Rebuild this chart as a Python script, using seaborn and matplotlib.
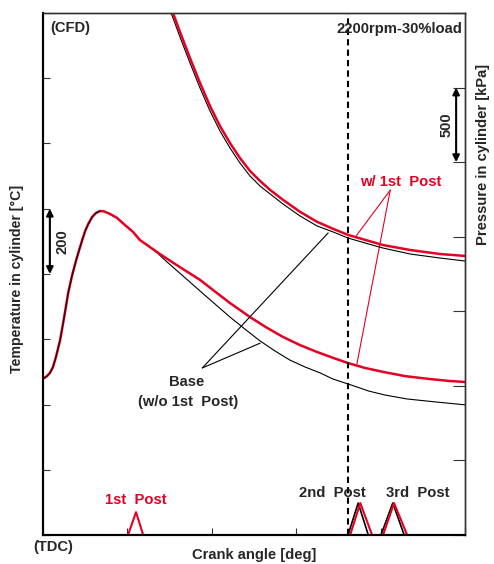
"""In-cylinder temperature and pressure after TDC, base vs. w/ 1st post injection."""
import matplotlib
matplotlib.use("Agg")
import matplotlib.pyplot as plt
import seaborn as sns

RED = "#e60023"

# crank angle axis is unitless here (0..100 across the frame), temperature 0..1600, pressure 0..3500
temp_x = [0, 1.02, 1.73, 2.44, 3.15, 4.14, 5.09, 6.04, 6.99, 7.94, 8.65, 9.36, 10.07, 10.78,
          11.73, 12.62, 13.57, 14.52, 15.93, 17.59, 19.49, 21.38, 23.03]
temp_rise = [478, 487, 497, 515, 546, 598, 668, 742, 797, 843, 874, 904, 932, 953,
             975, 987, 993, 992, 984, 972, 950, 929, 904]

temp_red_x = [27.77, 32.50, 37.25, 40.33, 44.35, 49.09, 53.12, 56.91, 60.93, 64.96, 68.75,
              72.30, 76.33, 80.59, 85.80, 91.71, 96.45, 100]
temp_red = [861, 821, 782, 751, 711, 668, 635, 607, 582, 561, 543,
            527, 512, 500, 487, 478, 472, 469]

temp_base_x = [26.59, 29.43, 33.22, 37.25, 40.80, 44.35, 47.90, 51.46, 55.01, 58.56, 62.11,
               65.66, 68.75, 72.30, 77.27, 81.06, 86.27, 92.90, 100]
temp_base = [871, 837, 794, 748, 708, 668, 631, 595, 564, 536, 515,
             497, 478, 463, 441, 429, 417, 408, 399]

pres_red_x = [30.14, 30.85, 32.51, 34.88, 37.25, 39.62, 41.98, 44.35, 46.72, 49.09, 51.46,
              53.83, 56.91, 60.93, 64.96, 68.75, 72.30, 76.33, 80.59, 86.99, 94.09, 100]
pres_red = [3554, 3500, 3373, 3198, 3031, 2876, 2742, 2628, 2527, 2441, 2374,
            2314, 2247, 2167, 2100, 2053, 2012, 1979, 1944, 1911, 1884, 1871]

pres_base_x = pres_red_x
pres_base = [3520, 3467, 3339, 3165, 2997, 2843, 2709, 2595, 2494, 2407, 2340,
             2287, 2219, 2139, 2072, 2032, 1991, 1958, 1924, 1884, 1857, 1837]

# injection pulse markers
post1_x = [20.2, 22.1, 23.8]
post1_h = [0, 70, 0]
post2_base_x = [72.3, 74.7, 77.1]
post2_red_x = [72.8, 75.2, 78.0]
post3_base_x = [80.1, 82.9, 85.6]
post3_red_x = [80.6, 83.2, 86.3]
post23_h = [0, 98, 0]

sns.set_style("ticks")
plt.rcParams["font.family"] = ["Liberation Sans", "DejaVu Sans"]
plt.rcParams["font.weight"] = "bold"

fig = plt.figure(figsize=(4.94, 5.64), dpi=100)
ax = fig.add_axes([0.0864, 0.0514, 0.8549, 0.9256])
ax2 = ax.twinx()

# temperature
sns.lineplot(x=temp_x + temp_base_x, y=temp_rise + temp_base, ax=ax, color="black", lw=0.8)
sns.lineplot(x=temp_x + temp_red_x, y=temp_rise + temp_red, ax=ax, color=RED, lw=1.8)
sns.lineplot(x=temp_x[:17], y=temp_rise[:17], ax=ax, color="black", lw=0.7)

# pressure
sns.lineplot(x=pres_base_x, y=pres_base, ax=ax2, color="black", lw=0.8)
sns.lineplot(x=pres_red_x, y=pres_red, ax=ax2, color=RED, lw=1.8)

# injection pulses
sns.lineplot(x=post1_x, y=post1_h, ax=ax, color=RED, lw=1.5)
for bx, rx in [(post2_base_x, post2_red_x), (post3_base_x, post3_red_x)]:
    sns.lineplot(x=bx, y=post23_h, ax=ax, color="black", lw=1.2)
    sns.lineplot(x=rx, y=post23_h, ax=ax, color=RED, lw=1.5)

ax.axvline(72.3, color="black", lw=1.5, ls=(0, (3, 2)))

ax.set_xlim(0, 100)
ax.set_ylim(0, 1600)
ax2.set_ylim(0, 3500)
ax.set_xticks(range(0, 101, 20))
ax.set_yticks(range(0, 1601, 200))
ax2.set_yticks(range(0, 3501, 500))
ax.set_xticklabels([])
ax.set_yticklabels([])
ax2.set_yticklabels([])
ax.set_xlabel("")
ax.set_ylabel("")
ax2.set_ylabel("")
ax.tick_params(axis="both", direction="in", length=5, width=0.8, color="#333333")
ax2.tick_params(axis="y", direction="in", length=9, width=0.8, color="#333333")
for a in (ax, ax2):
    for side in ["left", "bottom"]:
        a.spines[side].set_color("black")
        a.spines[side].set_linewidth(1.5)
    for side in ["top", "right"]:
        a.spines[side].set_visible(True)
        a.spines[side].set_color("#333333")
        a.spines[side].set_linewidth(1.0)

fs = 10.6
ax.text(1.7, 1554, "(CFD)", fontsize=fs, fontweight="bold", va="center", ha="left")
ax.text(99.3, 1551, "2200rpm-30%load", fontsize=fs, fontweight="bold", va="center", ha="right")

# scale arrows
ax.annotate("", xy=(1.7, 1000), xytext=(1.7, 800),
            arrowprops=dict(arrowstyle="<|-|>", color="black", lw=1.5, shrinkA=0, shrinkB=0,
                            mutation_scale=10))
ax.text(4.6, 900, "200", rotation=90, fontsize=fs, fontweight="bold", va="center", ha="center")
ax2.annotate("", xy=(97.9, 3000), xytext=(97.9, 2500),
             arrowprops=dict(arrowstyle="<|-|>", color="black", lw=1.5, shrinkA=0, shrinkB=0,
                             mutation_scale=10))
ax2.text(95.6, 2750, "500", rotation=90, fontsize=fs, fontweight="bold", va="center", ha="center")

# callouts
ax.text(84.9, 1082, "w/ 1st  Post", color=RED, fontsize=fs, fontweight="bold", ha="center", va="center")
for end in [(74.2, 916), (74.4, 524)]:
    ax.plot([82.3, end[0]], [1057, end[1]], color=RED, lw=0.8)
ax.text(34.2, 469, "Base", fontsize=fs, fontweight="bold", ha="center", va="center")
ax.text(34.4, 408, "(w/o 1st  Post)", fontsize=fs, fontweight="bold", ha="center", va="center")
for end in [(67.6, 926), (51.5, 588)]:
    ax.plot([37.8, end[0]], [512, end[1]], color="black", lw=0.8)

ax.text(22.1, 107, "1st  Post", color=RED, fontsize=fs, fontweight="bold", ha="center", va="center")
ax.text(68.7, 129, "2nd  Post", fontsize=fs, fontweight="bold", ha="center", va="center")
ax.text(88.9, 129, "3rd  Post", fontsize=fs, fontweight="bold", ha="center", va="center")

# axis labels placed by hand like the original figure
fig.text(53 / 494, 1 - 547 / 564, "(TDC)", fontsize=fs, fontweight="bold", ha="center", va="center")
fig.text(254 / 494, 1 - 555 / 564, "Crank angle [deg]", fontsize=fs, fontweight="bold",
         ha="center", va="center")
fig.text(17 / 494, 1 - 279 / 564, "Temperature in cylinder [°C]", fontsize=10.2, fontweight="bold",
         rotation=90, ha="center", va="center")
fig.text(483 / 494, 1 - 154 / 564, "Pressure in cylinder [kPa]", fontsize=fs, fontweight="bold",
         rotation=90, ha="center", va="center")

fig.savefig("out.png", dpi=100)
